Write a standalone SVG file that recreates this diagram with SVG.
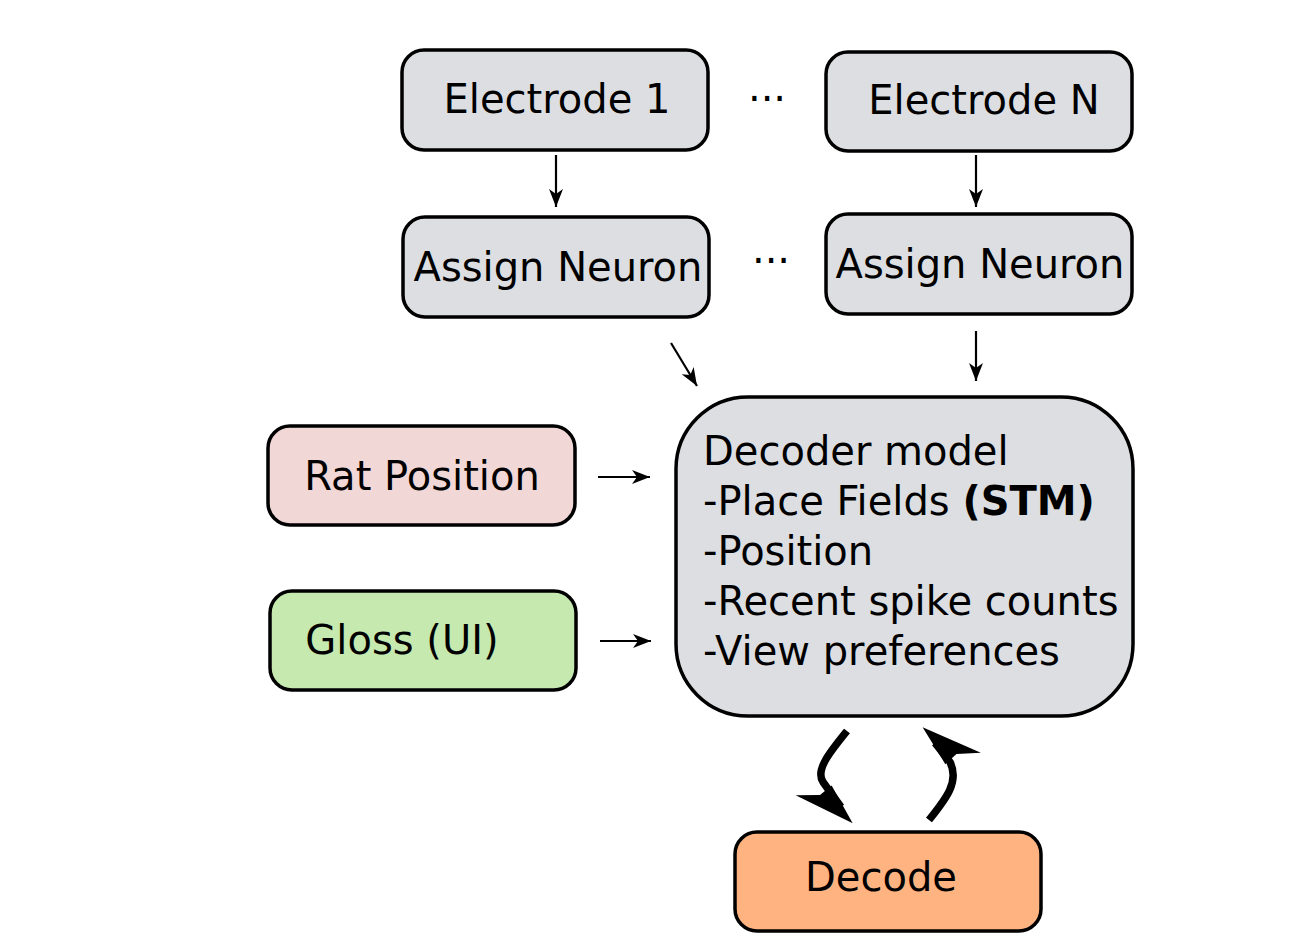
<svg xmlns="http://www.w3.org/2000/svg" width="1305" height="934" viewBox="0 0 1305 934">
<style>
.box{stroke:#000;stroke-width:3.5}
.grey{fill:#dcdee2}
.t{font-family:"DejaVu Sans",sans-serif;font-size:40px;fill:#000}
.c{stroke:#000;stroke-width:2.2;fill:none}
.thick{stroke:#000;stroke-width:7.5;fill:none}
</style>
<defs>
<marker id="ah" markerUnits="userSpaceOnUse" markerWidth="22" markerHeight="16" refX="18" refY="8" orient="auto">
<path d="M18,8 L0,1 L5,8 L0,15 Z" fill="#000"/>
</marker>
<marker id="big" markerUnits="userSpaceOnUse" markerWidth="100" markerHeight="80" refX="60" refY="40" orient="auto">
<path d="M80,40 L24,70 L38,50 L37,35 Z" fill="#000"/>
</marker>
</defs>
<rect width="1305" height="934" fill="#fff"/>
<g id="electrode1"><rect class="box grey" x="402" y="50" width="306" height="100" rx="22"/><text class="t" x="557" y="113" text-anchor="middle">Electrode 1</text></g>
<g id="electrodeN"><rect class="box grey" x="826" y="52" width="306" height="99" rx="22"/><text class="t" x="984" y="114" text-anchor="middle">Electrode N</text></g>
<g id="assign1"><rect class="box grey" x="403" y="217" width="306" height="100" rx="22"/><text class="t" x="558" y="281" text-anchor="middle" font-size="41">Assign Neuron</text></g>
<g id="assignN"><rect class="box grey" x="826" y="214" width="306" height="100" rx="22"/><text class="t" x="980" y="278" text-anchor="middle" font-size="41">Assign Neuron</text></g>
<g id="ratpos"><rect class="box" fill="#f2d7d7" x="268" y="426" width="307" height="99" rx="22"/><text class="t" x="422" y="490" text-anchor="middle">Rat Position</text></g>
<g id="gloss"><rect class="box" fill="#c6e9af" x="270" y="591" width="306" height="99" rx="22"/><text class="t" x="402" y="654" text-anchor="middle">Gloss (UI)</text></g>
<g id="decoder"><rect class="box grey" x="676" y="397" width="457" height="319" rx="72"/>
<text class="t" x="703" font-size="41"><tspan x="703" y="465">Decoder model</tspan><tspan x="703" y="515">-Place Fields <tspan font-weight="bold">(STM)</tspan></tspan><tspan x="703" y="565">-Position</tspan><tspan x="703" y="615">-Recent spike counts</tspan><tspan x="703" y="665">-View preferences</tspan></text></g>
<g id="decode"><rect class="box" fill="#ffb380" x="735" y="832" width="306" height="99" rx="22"/><text class="t" x="881" y="891" text-anchor="middle">Decode</text></g>
<g id="dots"><text class="t" x="767" y="113" text-anchor="middle" font-size="46">···</text><text class="t" x="771" y="275" text-anchor="middle" font-size="46">···</text></g>
<g id="connectors">
<line class="c" x1="556" y1="155" x2="556" y2="207" marker-end="url(#ah)"/>
<line class="c" x1="976" y1="155" x2="976" y2="207" marker-end="url(#ah)"/>
<line class="c" x1="976" y1="331" x2="976" y2="381" marker-end="url(#ah)"/>
<line class="c" x1="671" y1="343" x2="697" y2="386" marker-end="url(#ah)"/>
<line class="c" x1="598" y1="477" x2="650" y2="477" marker-end="url(#ah)"/>
<line class="c" x1="600" y1="641" x2="651" y2="641" marker-end="url(#ah)"/>
<path class="thick" d="M847,731 C830,752 815,770 823,782 L841,807" marker-end="url(#big)"/>
<path class="thick" d="M929,820 C945,800 960,782 950,762 L935,743" marker-end="url(#big)"/>
</g>
</svg>
